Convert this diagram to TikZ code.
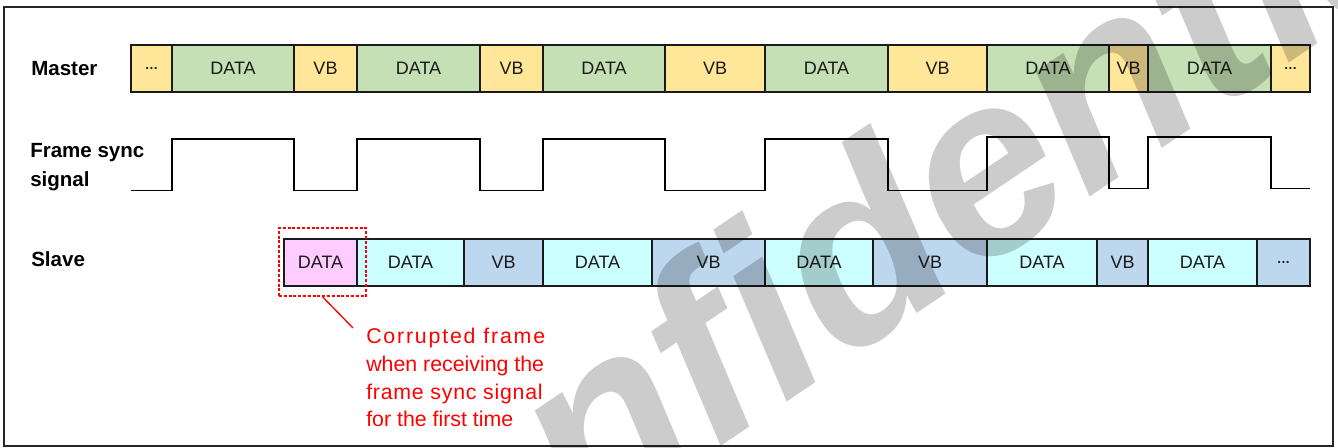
\documentclass[tikz,border=0pt]{standalone}
\usepackage{fontspec}
\setmainfont{Liberation Sans}
\definecolor{dataG}{HTML}{C5E0B4}
\definecolor{vbY}{HTML}{FFE699}
\definecolor{dataC}{HTML}{CCFFFF}
\definecolor{vbB}{HTML}{BDD7EE}
\definecolor{badP}{HTML}{FFCCFF}
\definecolor{edge}{HTML}{1A1A1A}
\newcommand\moredots{{\fontsize{10}{10}\selectfont\bfseries …}}
\begin{document}
\begin{tikzpicture}[x=0.75pt,y=-0.75pt,
  cell/.style={draw=edge, line width=1.3pt, minimum height=35.25pt, inner sep=0pt,
    text=edge, font=\fontsize{13.5}{16}\selectfont},
  lab/.style={font=\fontsize{15.4}{21.75}\selectfont\bfseries, inner sep=0pt,
    anchor=west, align=left},
  wave/.style={draw=black, line width=1.4pt},
  note/.style={text=red, inner sep=0pt, align=left, font=\fontsize{16}{20.8}\selectfont}]
\useasboundingbox (0,0) rectangle (1338,448);
\fill[white] (0,0) rectangle (1338,448);
\draw[line width=1.5pt, draw=black!85] (4,7) rectangle (1333,446);

% row labels
\node[lab] (master) at (31,68.5) {Master};
\node[lab, anchor=north west] (fsync) at (30,143.5) {Frame sync\\signal};
\node[lab] (slave) at (31,259) {Slave};

% master stream
\foreach \a/\b/\t/\c [count=\i] in {131/172/\moredots/vbY, 172/294/DATA/dataG,
    294/357/VB/vbY, 357/480/DATA/dataG, 480/543/VB/vbY, 543/665/DATA/dataG,
    665/765/VB/vbY, 765/888/DATA/dataG, 888/987/VB/vbY, 987/1109/DATA/dataG,
    1109/1148/VB/vbY, 1148/1271/DATA/dataG, 1271/1310/\moredots/vbY}
  \node[cell, fill=\c, minimum width={(\b-\a)*0.75pt}] (m\i) at ({(\a+\b)/2},68.5) {\t};

% frame sync waveform
\draw[wave] (131,190.5) -- (172,190.5) -- (172,139) -- (294,139) -- (294,190.5)
  -- (357,190.5) -- (357,139) -- (480,139) -- (480,190.5) -- (543,190.5)
  -- (543,139) -- (665,139) -- (665,190.5) -- (765,190.5) -- (765,139)
  -- (888,139) -- (888,190.5) -- (987,190.5) -- (987,137) -- (1109,137)
  -- (1109,188.5) -- (1148,188.5) -- (1148,137) -- (1271,137) -- (1271,188.5)
  -- (1310,188.5);

% slave stream
\foreach \a/\b/\t/\c [count=\i] in {284/357/DATA/badP, 357/464/DATA/dataC,
    464/543/VB/vbB, 543/652/DATA/dataC, 652/765/VB/vbB, 765/873/DATA/dataC,
    873/987/VB/vbB, 987/1097/DATA/dataC, 1097/1148/VB/vbB, 1148/1257/DATA/dataC,
    1257/1310/\moredots/vbB}
  \node[cell, fill=\c, minimum width={(\b-\a)*0.75pt}] (s\i) at ({(\a+\b)/2},262.5) {\t};

% corrupted frame callout
\node[draw=red, line width=1.1pt, dash pattern=on 2.2pt off 1.4pt, inner sep=0pt,
  minimum width=65.25pt, minimum height=51pt] (cbox) at (322.5,262) {};
\coordinate (tip) at (353,328);
\draw[red, line width=1pt] (cbox.south) -- (tip);
\node[note, anchor=north west] (note) at (366,328)
  {{\addfontfeature{LetterSpace=8.5}Corrupted frame}\\
   when receiving the\\
   {\addfontfeature{LetterSpace=3.5}frame sync signal}\\
   for the first time};

% watermark
\begin{scope}
  \clip (0,0) rectangle (1338,448);
  \node[rotate=34, anchor=base west, text=black, text opacity=0.2, inner sep=0pt,
    font=\fontsize{190}{190}\selectfont\bfseries\itshape] (wm) at (305,727) {Confidential};
\end{scope}
\end{tikzpicture}
\end{document}
